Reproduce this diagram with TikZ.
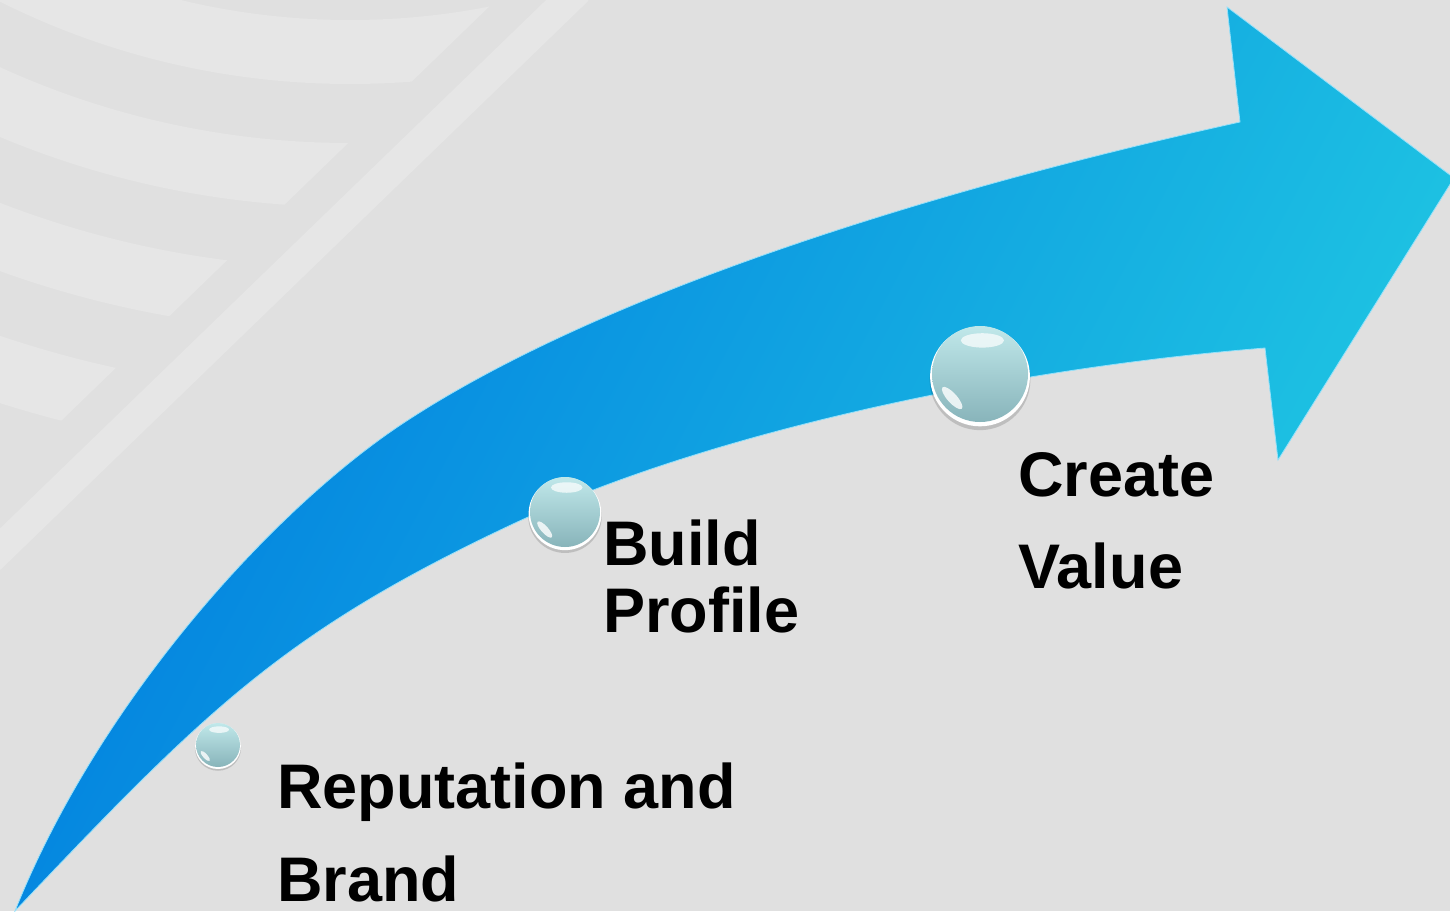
\documentclass[tikz,border=0pt]{standalone}
\usepackage{fontspec}
\setmainfont{Liberation Sans}

\definecolor{bgcol}{RGB}{224,224,224}
\definecolor{bandcol}{RGB}{230,230,230}
\definecolor{arrowL}{RGB}{0,124,224}
\definecolor{arrowR}{RGB}{32,200,226}
\definecolor{arrowEdge}{RGB}{150,225,250}
\definecolor{ballTop}{RGB}{192,232,234}
\definecolor{ballBot}{RGB}{136,180,186}

\begin{document}
\begin{tikzpicture}[x=0.5pt, y=-0.5pt,
    bubble/.style={circle, inner sep=0pt, top color=ballTop, bottom color=ballBot},
    steptext/.style={anchor=north west, inner sep=0pt, align=left,
        font=\bfseries\fontsize{31.5pt}{46pt}\selectfont}]

        % Canvas
        \clip (0,0) rectangle (1450,911);
        \fill[bgcol] (0,0) rectangle (1450,911);

        % Faint background bands
        \begin{scope}
            \clip (0,0) -- (496,0) -- (0,480) -- cycle;
            \foreach \r in {752,875,1000,1125}
                \draw[bandcol, line width=32pt] (350,-700) circle [radius=\r];
        \end{scope}
        \draw[bandcol, line width=15pt] (578,-10) -- (-10,559);

        % Curved arrow
        \coordinate (tail)     at (15,911);
        \coordinate (upmid)    at (408,420);
        \coordinate (upnotch)  at (1240,122);
        \coordinate (upbarb)   at (1227,7);
        \coordinate (tip)      at (1454,178);
        \coordinate (lowbarb)  at (1278,460);
        \coordinate (lownotch) at (1265,348);
        \coordinate (lowmid)   at (513,524);

        \shade[left color=arrowL, right color=arrowR, shading angle=62,
               draw=arrowEdge, line width=0.4pt]
            (tail) .. controls (100,698) and (278,504) .. (upmid)
                   .. controls (608,290) and (940,188) .. (upnotch)
            -- (upbarb) -- (tip) -- (lowbarb) -- (lownotch)
                   .. controls (1015,368) and (713,430) .. (lowmid)
                   .. controls (283,632) and (205,711) .. (tail)
            -- cycle;

        % Glossy spheres
        \foreach \n/\x/\y/\r in {s1/218/745/22, s2/565/512/35, s3/980/374/48}{
            \fill[black, opacity=0.15] (\x,\y+0.12*\r) circle [radius=1.05*\r];
            \fill[white] (\x,\y+0.05*\r) circle [radius=1.04*\r];
            \node[bubble, minimum size=\r*1pt] (\n) at (\x,\y) {};
            \fill[white, opacity=0.7] (\x+0.05*\r,\y-0.7*\r) ellipse [x radius=0.45*\r, y radius=0.15*\r];
            \fill[white, opacity=0.8, rotate around={-48:(\x-0.58*\r,\y+0.5*\r)}]
                (\x-0.58*\r,\y+0.5*\r) ellipse [x radius=0.3*\r, y radius=0.1*\r];
        }

        % Step labels
        \node[steptext, font=\bfseries\fontsize{31.5pt}{46.5pt}\selectfont] (brand) at (277,762) {Reputation and\\Brand};
        \node[steptext, font=\bfseries\fontsize{31.5pt}{33.5pt}\selectfont] (profile) at (603,519) {Build\\Profile};
        \node[steptext] (value) at (1018,452) {Create\\Value};

    \end{tikzpicture}
\end{document}
